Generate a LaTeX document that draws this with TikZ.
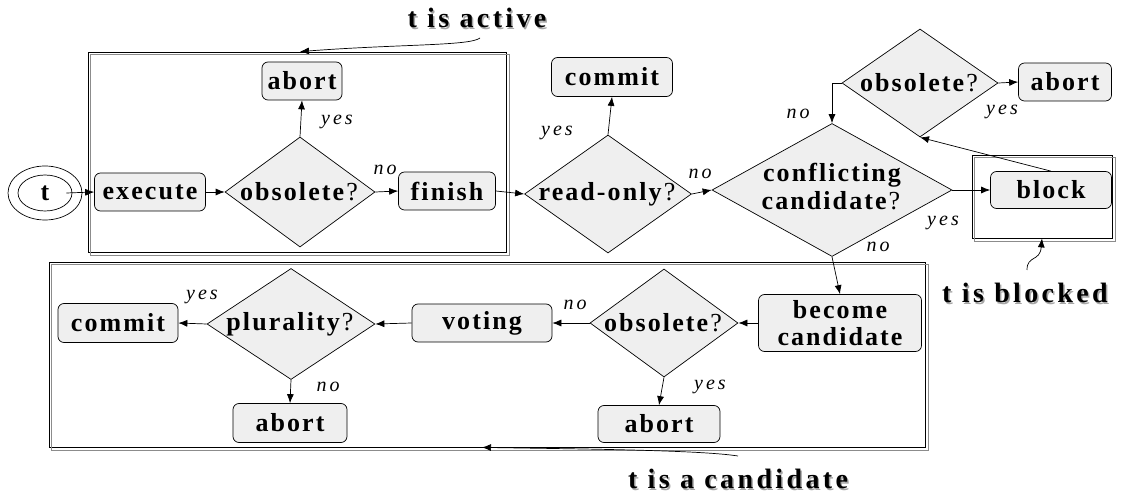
\documentclass[tikz,border=0pt]{standalone}
\usepackage{fontspec}
\setmainfont{Liberation Serif}
\newfontfamily\lblfam[LetterSpace=8]{Liberation Serif}
\newfontfamily\capfam[LetterSpace=12]{Liberation Serif}
\newfontfamily\ansfam[LetterSpace=15]{Liberation Serif}
\usetikzlibrary{shapes.geometric,arrows.meta}
\definecolor{boxfill}{HTML}{EFEFEF}
\definecolor{frameshade}{HTML}{8C8C8C}
\newcommand\qmark{\textmd{?}}
\newcommand\dtext[1]{\makebox[0pt]{#1}}
\tikzset{
  lbl/.style={font=\lblfam\bfseries\fontsize{26}{30}\selectfont},
  stepbox/.style={lbl, draw, fill=boxfill, rounded corners=6pt, inner sep=0pt, line width=0.7pt},
  decision/.style={lbl, diamond, draw, fill=boxfill, inner sep=0pt, line width=0.7pt},
  answer/.style={font=\ansfam\itshape\fontsize{20}{22}\selectfont, inner sep=0pt},
  caption/.style={font=\capfam\bfseries\fontsize{28}{32}\selectfont, inner sep=0pt},
  capshade/.style={caption, text=black!35},
  arr/.style={-{Latex[length=9pt,width=7pt]}, line width=0.7pt},
  group/.style={draw, line width=0.8pt, inner sep=0pt},
  groupshade/.style={draw=frameshade, line width=0.8pt},
}
\begin{document}
\begin{tikzpicture}[x=1pt,y=-1pt]
\useasboundingbox (0,0) rectangle (1125,497);

% state groups (double frames)
\node[group, minimum width=418pt, minimum height=200pt] (activegrp) at (297,152) {};
\draw[groupshade] ([shift={(3,3)}]activegrp.north west) rectangle ([shift={(3,3)}]activegrp.south east);
\node[group, minimum width=876pt, minimum height=185pt] (candgrp) at (487,354.5) {};
\draw[groupshade] ([shift={(3,3)}]candgrp.north west) rectangle ([shift={(3,3)}]candgrp.south east);
\node[group, minimum width=140pt, minimum height=83pt] (blockgrp) at (1042,196.5) {};
\draw[groupshade] ([shift={(3,3)}]blockgrp.north west) rectangle ([shift={(3,3)}]blockgrp.south east);

% start state
\node[ellipse, draw, line width=0.7pt, minimum width=74pt, minimum height=54pt] (startout) at (45,193) {};
\node[lbl, ellipse, draw, line width=0.7pt, minimum width=54pt, minimum height=36pt] (start) at (45,193) {t};

% active phase
\node[stepbox, minimum width=111pt, minimum height=38pt] (exec) at (150,192) {execute};
\node[decision, minimum width=150pt, minimum height=110pt] (obs1) at (300,192) {\dtext{obsolete\qmark}};
\node[stepbox, minimum width=80pt, minimum height=38pt] (abort1) at (302,81) {abort};
\node[stepbox, minimum width=97pt, minimum height=38pt] (finish) at (447,191) {finish};

% commit checks
\node[decision, minimum width=167pt, minimum height=118pt] (ronly) at (608,194) {\dtext{read-only\qmark}};
\node[stepbox, minimum width=121pt, minimum height=39pt] (commit1) at (612,77) {commit};
\node[decision, minimum width=240pt, minimum height=133pt] (confl) at (832,190)
  {\dtext{\begin{tabular}{@{}c@{}}conflicting\\[-2pt]candidate\qmark\end{tabular}}};

% blocked phase
\node[stepbox, minimum width=121pt, minimum height=37pt] (block) at (1051,190) {block};
\node[decision, minimum width=156pt, minimum height=108pt] (obs2) at (920,83) {\dtext{obsolete\qmark}};
\node[stepbox, minimum width=93pt, minimum height=38pt] (abort2) at (1065,82) {abort};

% candidate phase
\node[stepbox, minimum width=163pt, minimum height=57pt, align=center] (become) at (840,323)
  {become\\[-3pt]candidate};
\node[decision, minimum width=148pt, minimum height=108pt] (obs3) at (664,323) {\dtext{obsolete\qmark}};
\node[stepbox, minimum width=122pt, minimum height=37pt] (abort3) at (659,424) {abort};
\node[stepbox, minimum width=140pt, minimum height=38pt] (voting) at (482,323) {voting};
\node[decision, minimum width=168pt, minimum height=111pt] (plural) at (291,324) {\dtext{plurality\qmark}};
\node[stepbox, minimum width=120pt, minimum height=39pt] (commit2) at (118,323) {commit};
\node[stepbox, minimum width=114pt, minimum height=39pt] (abort4) at (290,423) {abort};

% flow
\draw[arr] ([xshift=-6pt]start.east) -- (exec.west);
\draw[arr] (exec.east) -- (obs1.west);
\draw[arr] (obs1.north) -- (abort1.south);
\draw[arr] (obs1.east) -- (finish.west);
\draw[arr] (finish.east) -- (ronly.west);
\draw[arr] (ronly.north) -- (commit1.south);
\draw[arr] (ronly.east) -- (confl.west);
\draw[arr] (confl.east) -- (block.west);
\draw[arr] (block.north) -- (obs2.south);
\draw[arr] (obs2.east) -- (abort2.west);
\draw[arr] (obs2.west) -| (confl.north);
\draw[arr] (confl.south) -- (become.north);
\draw[arr] (become.west) -- (obs3.east);
\draw[arr] (obs3.west) -- (voting.east);
\draw[arr] (obs3.south) -- (abort3.north);
\draw[arr] (voting.west) -- (plural.east);
\draw[arr] (plural.west) -- (commit2.east);
\draw[arr] (plural.south) -- (abort4.north);

% branch answers
\node[answer] (a1) at (337,122) {yes};
\node[answer] (a2) at (385,170) {no};
\node[answer] (a3) at (557,133) {yes};
\node[answer] (a4) at (700,174) {no};
\node[answer] (a5) at (798,114) {no};
\node[answer] (a6) at (1002,112) {yes};
\node[answer] (a7) at (943,223) {yes};
\node[answer] (a8) at (878,247) {no};
\node[answer] (a9) at (575,305) {no};
\node[answer] (a10) at (710,387) {yes};
\node[answer] (a11) at (202,297) {yes};
\node[answer] (a12) at (328,387) {no};

% phase captions
\node[capshade] (activeshade) at (478.5,19.5) {t is active};
\node[caption] (activecap) at (477,18) {t is active};
\node[capshade] (blockshade) at (1026.5,294.5) {t is blocked};
\node[caption] (blockcap) at (1025,293) {t is blocked};
\node[capshade] (candshade) at (739.5,480.5) {t is a candidate};
\node[caption] (candcap) at (738,479) {t is a candidate};

\coordinate (activetail) at (480,38);
\coordinate (blocktail) at (1027,270);
\coordinate (candtail) at (738,456);
\draw[arr] (activetail) .. controls (470,46) and (400,44) .. (obs1.north |- activegrp.north);
\draw[arr] (blocktail) .. controls (1027,255) and (1040,262) .. (blockgrp.south);
\draw[arr] (candtail) .. controls (700,450) and (580,449) .. (voting |- candgrp.south);
\end{tikzpicture}
\end{document}
